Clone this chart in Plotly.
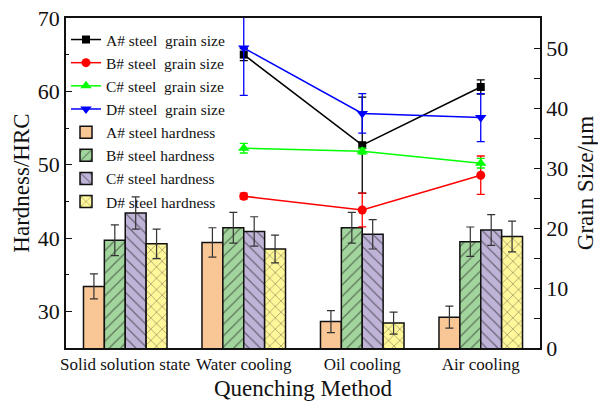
import plotly.graph_objects as go

categories = ["Solid solution state", "Water cooling", "Oil cooling", "Air cooling"]

# Hardness (HRC) bars
hard_A = [33.4, 39.4, 28.6, 29.2]
hard_A_err = [1.7, 2.0, 1.5, 1.5]
hard_B = [39.7, 41.4, 41.4, 39.5]
hard_B_err = [2.1, 2.1, 2.1, 2.0]
hard_C = [43.4, 40.9, 40.5, 41.1]
hard_C_err = [2.2, 2.0, 2.0, 2.1]
hard_D = [39.2, 38.5, 28.4, 40.2]
hard_D_err = [2.0, 1.9, 1.5, 2.1]

# Grain size (um) lines
grain_cats = ["Water cooling", "Oil cooling", "Air cooling"]
grain_A = [48.9, 33.8, 43.5]
grain_A_err = [1.0, 8.0, 1.2]
grain_B = [25.3, 23.0, 28.8]
grain_B_err = [0.5, 2.8, 3.2]
grain_C = [33.3, 32.8, 30.8]
grain_C_err = [0.8, 0.5, 0.8]
grain_D = [50.0, 39.1, 38.4]
grain_D_err = [7.9, 3.3, 4.0]

FONT = "Liberation Serif"

fig = go.Figure()

line_specs = [
    ("A# steel\u00a0 grain size", grain_A, grain_A_err, "#000000", "square", 8),
    ("B# steel\u00a0 grain size", grain_B, grain_B_err, "#FF0000", "circle", 9),
    ("C# steel\u00a0 grain size", grain_C, grain_C_err, "#00FF00", "triangle-up", 10),
    ("D# steel\u00a0 grain size", grain_D, grain_D_err, "#0000FF", "triangle-down", 10),
]
for name, vals, errs, col, sym, sz in line_specs:
    fig.add_trace(go.Scatter(
        x=grain_cats, y=vals, name=name, yaxis="y2", mode="lines+markers",
        line=dict(color=col, width=1.5),
        marker=dict(symbol=sym, size=sz, color=col),
        error_y=dict(type="data", array=errs, color=col, thickness=1.3, width=4),
    ))

bar_specs = [
    ("A# steel hardness", hard_A, hard_A_err, "#F9C795", ""),
    ("B# steel hardness", hard_B, hard_B_err, "#A2D59D", "/"),
    ("C# steel hardness", hard_C, hard_C_err, "#BFB4D8", "\\"),
    ("D# steel hardness", hard_D, hard_D_err, "#FFF79A", "x"),
]
for name, vals, errs, col, pat in bar_specs:
    fig.add_trace(go.Bar(
        x=categories, y=vals, name=name, yaxis="y",
        marker=dict(color=col, line=dict(color="#111111", width=1.5),
                    pattern=dict(shape=pat, fgcolor="#111111", bgcolor=col,
                                 size=8, solidity=0.15)),
        error_y=dict(type="data", array=errs, color="#333333", thickness=1.2, width=4),
    ))

fig.update_layout(
    width=598, height=405,
    margin=dict(l=66, r=58, t=18, b=57),
    paper_bgcolor="white", plot_bgcolor="white",
    font=dict(family=FONT, color="#111111"),
    barmode="group", bargap=0.295, bargroupgap=0,
    showlegend=True,
    legend=dict(x=0.0, y=0.985, xanchor="left", yanchor="top",
                bgcolor="rgba(0,0,0,0)", font=dict(family=FONT, size=15.5),
                tracegroupgap=0, itemwidth=30),
    xaxis=dict(type="category", categoryorder="array", categoryarray=categories,
               range=[-0.5, 3.5], showline=True, linecolor="#111111", linewidth=2,
               mirror=True, ticks="", showgrid=False, automargin=False,
               tickfont=dict(family=FONT, size=17),
               title=dict(text="Quenching Method", font=dict(family=FONT, size=23), standoff=6)),
    yaxis=dict(range=[25, 70], tickmode="linear", tick0=30, dtick=10, automargin=False,
               showline=True, linecolor="#111111", linewidth=1.5,
               ticks="inside", ticklen=6, tickcolor="#111111", showgrid=False, zeroline=False,
               minor=dict(dtick=5, tick0=25, ticks="inside", ticklen=3, tickcolor="#111111"),
               tickfont=dict(family=FONT, size=22),
               title=dict(text="Hardness/HRC", font=dict(family=FONT, size=23), standoff=2)),
    yaxis2=dict(range=[0, 55], overlaying="y", side="right", tickmode="linear", tick0=0, dtick=10,
                automargin=False,
                showline=True, linecolor="#111111", linewidth=1.5,
                ticks="inside", ticklen=6, tickcolor="#111111", showgrid=False, zeroline=False,
                minor=dict(dtick=5, ticks="inside", ticklen=6, tickcolor="#111111"),
                tickfont=dict(family=FONT, size=22),
                title=dict(text="Grain Size/\u03bcm", font=dict(family=FONT, size=23), standoff=10)),
)

fig.write_html("out.html", config={"displayModeBar": False},
               post_script="document.body.style.margin='0';")
